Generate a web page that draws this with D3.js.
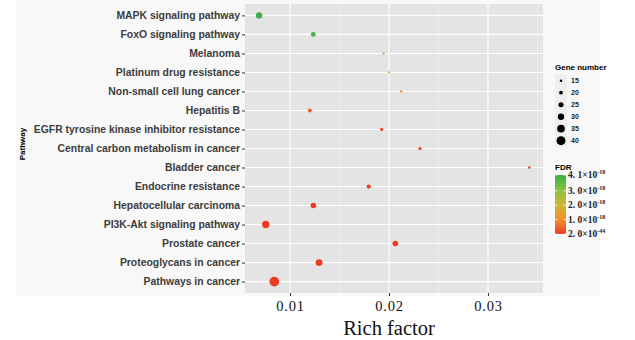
<!DOCTYPE html>
<html>
<head>
<meta charset="utf-8">
<script src="https://cdn.jsdelivr.net/npm/d3@7"></script>
<style>
body { margin: 0; background: #fff; }
svg { display: block; }
</style>
</head>
<body>
<script>
// KEGG enrichment bubble chart
var pathways = [
	"MAPK signaling pathway",
	"FoxO signaling pathway",
	"Melanoma",
	"Platinum drug resistance",
	"Non-small cell lung cancer",
	"Hepatitis B",
	"EGFR tyrosine kinase inhibitor resistance",
	"Central carbon metabolism in cancer",
	"Bladder cancer",
	"Endocrine resistance",
	"Hepatocellular carcinoma",
	"PI3K-Akt signaling pathway",
	"Prostate cancer",
	"Proteoglycans in cancer",
	"Pathways in cancer"
];
var richFactor = [0.00687, 0.01235, 0.01946, 0.0200, 0.02124, 0.0120, 0.01926, 0.02313, 0.03417, 0.01795, 0.01236, 0.00755, 0.02064, 0.01293, 0.00841];
var geneNumber = [30, 24, 14, 14, 15, 21, 18, 18, 15, 22, 27, 34, 27, 32, 43];
var fdr = [4.1e-18, 3.9e-18, 2.6e-18, 2.1e-18, 1.0e-18, 4.5e-19, 2.0e-19, 8e-20, 5e-20, 2e-20, 6e-21, 1e-22, 4e-21, 1e-25, 2.0e-44];

var xTicks = [0.01, 0.02, 0.03];
var xMinor = [0.015, 0.025, 0.035];
var sizeBreaks = [15, 20, 25, 30, 35, 40];
var fdrBreaks = [4.1e-18, 3.0e-18, 2.0e-18, 1.0e-18, 2.0e-44];
var fdrLabels = [["4. 1", "-18"], ["3. 0", "-18"], ["2. 0", "-18"], ["1. 0", "-18"], ["2. 0", "-44"]];

var W = 635, H = 340;
var panel = { left: 245, right: 543, top: 4, bottom: 293 };

var svg = d3.select("body").append("svg").attr("width", W).attr("height", H);
svg.append("rect").attr("x", 16).attr("y", 0).attr("width", 584).attr("height", 296).attr("fill", "#f8f8f8");

var x = d3.scaleLinear().domain([0.00545, 0.03556]).range([panel.left, panel.right]);
var y = d3.scalePoint().domain(pathways).range([panel.top, panel.bottom]).padding(0.6);
var r = d3.scaleLinear().domain([14, 44]).range([1.1, 5]);
var color = d3.scaleLinear()
	.domain([0, 1.0e-18, 2.0e-18, 3.0e-18, 4.1e-18])
	.range(["#ee3b24", "#f3902b", "#cdb631", "#8fc23f", "#39b04a"]);

// panel + grid
svg.append("rect").attr("x", panel.left).attr("y", panel.top)
	.attr("width", panel.right - panel.left).attr("height", panel.bottom - panel.top)
	.attr("fill", "#e4e4e4");
svg.selectAll(".minor").data(xMinor).enter().append("line")
	.attr("x1", d => x(d)).attr("x2", d => x(d))
	.attr("y1", panel.top).attr("y2", panel.bottom)
	.attr("stroke", "#f4f4f4").attr("stroke-width", 0.6);
svg.selectAll(".vmajor").data(xTicks).enter().append("line")
	.attr("x1", d => x(d)).attr("x2", d => x(d))
	.attr("y1", panel.top).attr("y2", panel.bottom)
	.attr("stroke", "#fff").attr("stroke-width", 1.1);
svg.selectAll(".hmajor").data(pathways).enter().append("line")
	.attr("x1", panel.left).attr("x2", panel.right)
	.attr("y1", d => y(d)).attr("y2", d => y(d))
	.attr("stroke", "#fff").attr("stroke-width", 1.1);

// axes
var yAxis = svg.append("g").attr("transform", "translate(" + panel.left + ",0)")
	.call(d3.axisLeft(y).tickSize(3).tickPadding(2));
yAxis.select(".domain").remove();
yAxis.selectAll("line").attr("stroke", "#333");
yAxis.selectAll("text").attr("font-family", "Liberation Sans, Arial, sans-serif")
	.attr("font-weight", "bold").attr("font-size", 10.4).attr("fill", "#3d3d3d");

var xAxis = svg.append("g").attr("transform", "translate(0," + panel.bottom + ")")
	.call(d3.axisBottom(x).tickValues(xTicks).tickSize(3).tickPadding(1).tickFormat(d3.format(".2f")));
xAxis.select(".domain").remove();
xAxis.selectAll("line").attr("stroke", "#333");
xAxis.selectAll("text").attr("font-family", "Liberation Serif, Times New Roman, serif")
	.attr("font-size", 14.5).attr("letter-spacing", 0.8).attr("fill", "#111").attr("dy", "0.95em");

svg.append("text").attr("x", 389).attr("y", 335).attr("text-anchor", "middle")
	.attr("font-family", "Liberation Serif, Times New Roman, serif").attr("font-size", 20.5)
	.attr("fill", "#111").text("Rich factor");
svg.append("text").attr("transform", "translate(25,144) rotate(-90)").attr("text-anchor", "middle")
	.attr("font-family", "Liberation Sans, Arial, sans-serif").attr("font-weight", "bold")
	.attr("font-size", 8).attr("fill", "#000").text("Pathway");

// points
var pts = pathways.map((p, i) => ({ p: p, rf: richFactor[i], n: geneNumber[i], f: fdr[i] }));
svg.selectAll(".dot").data(pts).enter().append("circle")
	.attr("cx", d => x(d.rf)).attr("cy", d => y(d.p))
	.attr("r", d => r(d.n)).attr("fill", d => color(d.f));

// size legend
var sl = svg.append("g").attr("font-family", "Liberation Sans, Arial, sans-serif");
sl.append("text").attr("x", 555).attr("y", 70).attr("font-size", 8).attr("font-weight", "bold").text("Gene number");
var keys = sl.selectAll(".key").data(sizeBreaks).enter().append("g")
	.attr("transform", (d, i) => "translate(561," + (80.7 + i * 12) + ")");
keys.append("rect").attr("x", -6).attr("y", -6).attr("width", 12).attr("height", 12).attr("fill", "#efefef");
keys.append("circle").attr("r", d => r(d)).attr("fill", "#000");
keys.append("text").attr("x", 10).attr("y", 2.5).attr("font-size", 7).attr("font-weight", "bold")
	.attr("fill", "#222").text(d => d);

// colour legend
var cl = svg.append("g");
cl.append("text").attr("x", 555).attr("y", 170).attr("font-family", "Liberation Sans, Arial, sans-serif")
	.attr("font-size", 8).attr("font-weight", "bold").text("FDR");
var cb = d3.scaleLinear().domain([0, 4.1e-18]).range([234, 175]);
var grad = svg.append("defs").append("linearGradient").attr("id", "fdrgrad")
	.attr("x1", 0).attr("y1", 1).attr("x2", 0).attr("y2", 0);
color.domain().forEach(v => {
	grad.append("stop").attr("offset", v / 4.1e-18).attr("stop-color", color(v));
});
cl.append("rect").attr("x", 555).attr("y", 175).attr("width", 11).attr("height", 59).attr("fill", "url(#fdrgrad)");
fdrBreaks.forEach((v, i) => {
	var yy = cb(v);
	cl.append("line").attr("x1", 555).attr("x2", 557.5).attr("y1", yy).attr("y2", yy).attr("stroke", "#fff").attr("stroke-width", 0.8);
	cl.append("line").attr("x1", 563.5).attr("x2", 566).attr("y1", yy).attr("y2", yy).attr("stroke", "#fff").attr("stroke-width", 0.8);
	var t = cl.append("text").attr("x", 568).attr("y", yy + 3)
		.attr("font-family", "Liberation Serif, Times New Roman, serif").attr("font-size", 9.5)
		.attr("font-weight", "bold").attr("fill", "#222");
	t.append("tspan").text(fdrLabels[i][0] + "\u00d710");
	t.append("tspan").attr("dy", -4).attr("font-size", 6).text(fdrLabels[i][1]);
});
</script>
</body>
</html>
